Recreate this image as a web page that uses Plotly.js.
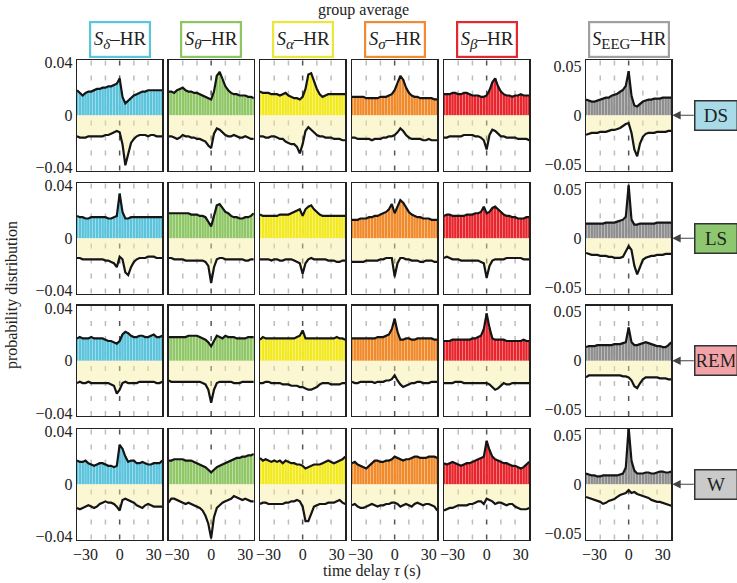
<!DOCTYPE html>
<html>
<head>
<meta charset="utf-8">
<script src="https://cdn.plot.ly/plotly-3.0.1.min.js"></script>
<style>html,body{margin:0;padding:0;background:#fff}</style>
</head>
<body>
<div id="chart" style="width:737px;height:583px"></div>
<script>
// time delay axis (s)
const tau = [-37.5,-35,-32.5,-30,-27.5,-25,-22.5,-20,-17.5,-15,-12.5,-10,-7.5,-5,-2.5,0,2.5,5,7.5,10,12.5,15,17.5,20,22.5,25,27.5,30,32.5,35,37.5];

const bands = ['delta', 'theta', 'alpha', 'sigma', 'beta', 'eeg'];
const subs = ['<i>δ</i>', '<i>θ</i>', '<i>α</i>', '<i>σ</i>', '<i>β</i>', 'EEG'];
const stages = ['DS', 'LS', 'REM', 'W'];

// probability distributions, values x 1e-3 (up = positive part, dn = negative part)
const ds_delta_up = [19,17,15,17,18,18,19,20,20,21,21,22,22,23,24,28,14,9,11,13,15,16,17,18,18,19,19,19,19,19,19];
const ds_delta_dn = [-16,-17,-17,-17,-16,-16,-16,-16,-16,-16,-15,-15,-14,-13,-12,-13,-22,-38,-30,-21,-18,-16,-15,-15,-15,-16,-15,-15,-16,-16,-16];
const ds_theta_up = [18,18,17,19,20,21,19,18,18,17,17,16,15,14,13,12,18,30,33,27,22,19,17,16,16,15,15,15,14,14,13];
const ds_theta_dn = [-16,-16,-17,-18,-17,-15,-16,-16,-17,-17,-18,-18,-19,-20,-23,-25,-14,-10,-11,-13,-15,-16,-16,-15,-16,-17,-17,-16,-17,-18,-18];
const ds_alpha_up = [18,17,17,17,16,16,16,15,16,17,15,14,13,13,12,14,20,31,32,26,20,16,14,15,16,16,16,16,16,16,16];
const ds_alpha_dn = [-16,-16,-17,-17,-16,-16,-17,-18,-18,-20,-21,-22,-22,-24,-29,-22,-12,-9,-11,-13,-15,-16,-16,-17,-17,-17,-18,-18,-18,-19,-19];
const ds_sigma_up = [14,14,14,14,14,13,13,13,13,13,14,14,14,15,16,19,24,30,27,21,17,15,14,14,13,13,13,13,13,12,12];
const ds_sigma_dn = [-17,-17,-18,-18,-18,-18,-18,-19,-18,-18,-18,-17,-17,-16,-16,-15,-13,-10,-12,-15,-17,-18,-18,-18,-18,-19,-19,-18,-19,-19,-19];
const ds_beta_up = [16,16,16,17,17,16,16,17,17,16,15,15,15,14,14,15,19,25,28,22,18,16,15,15,14,15,15,16,15,15,15];
const ds_beta_dn = [-17,-17,-16,-16,-16,-16,-16,-15,-15,-15,-15,-16,-16,-17,-19,-26,-15,-11,-12,-14,-16,-16,-17,-17,-17,-17,-18,-18,-18,-18,-19];
const ds_eeg_up = [16,15,14,14,15,16,17,18,18,20,21,22,24,26,30,45,20,10,9,12,14,15,16,16,17,17,17,18,18,18,18];
const ds_eeg_dn = [-20,-19,-18,-18,-18,-17,-17,-17,-16,-15,-15,-14,-13,-11,-9,-8,-18,-35,-42,-29,-22,-19,-18,-18,-18,-17,-17,-17,-17,-16,-16];

const ls_delta_up = [17,16,16,15,15,16,16,16,16,16,16,15,15,16,17,34,20,15,15,16,16,16,16,16,16,16,16,16,16,16,16];
const ls_delta_dn = [-15,-15,-16,-16,-16,-16,-16,-16,-16,-16,-17,-17,-18,-19,-22,-14,-16,-26,-28,-22,-18,-16,-15,-15,-15,-14,-14,-14,-15,-15,-15];
const ls_theta_up = [19,19,19,19,19,19,19,19,18,18,18,17,17,16,12,9,17,25,26,23,20,19,17,16,16,15,15,16,16,17,19];
const ls_theta_dn = [-15,-15,-16,-16,-16,-16,-17,-17,-17,-17,-17,-17,-17,-18,-21,-34,-22,-16,-15,-15,-16,-16,-16,-16,-16,-16,-16,-17,-17,-16,-16];
const ls_alpha_up = [18,17,17,17,17,17,17,18,18,18,18,19,20,21,22,17,22,24,25,22,20,18,17,17,17,17,17,17,17,17,17];
const ls_alpha_dn = [-16,-16,-16,-16,-17,-16,-16,-17,-17,-16,-16,-16,-17,-18,-19,-27,-19,-16,-15,-16,-16,-16,-16,-16,-17,-17,-17,-18,-18,-17,-17];
const ls_sigma_up = [14,14,14,15,15,15,16,16,17,17,18,19,20,22,26,19,24,29,27,23,20,18,17,16,16,15,15,15,14,14,14];
const ls_sigma_dn = [-18,-18,-18,-18,-18,-17,-17,-17,-17,-17,-16,-16,-15,-15,-15,-29,-19,-15,-15,-16,-16,-17,-17,-17,-18,-18,-17,-17,-17,-18,-18];
const ls_beta_up = [17,18,18,17,17,17,17,17,18,18,18,19,19,20,24,19,20,23,24,22,20,18,17,17,16,16,15,15,15,16,16];
const ls_beta_dn = [-15,-14,-15,-16,-16,-16,-17,-17,-17,-17,-17,-17,-17,-18,-19,-30,-21,-17,-16,-16,-16,-16,-15,-15,-15,-15,-15,-15,-16,-16,-16];
const ls_eeg_up = [15,15,15,15,15,15,15,16,16,16,16,17,18,19,22,54,19,14,14,15,15,15,15,15,15,16,16,16,16,16,16];
const ls_eeg_dn = [-15,-16,-17,-17,-17,-18,-18,-18,-19,-19,-20,-20,-20,-19,-14,-8,-12,-28,-37,-29,-22,-20,-19,-18,-18,-17,-17,-17,-16,-16,-16];

const rem_delta_up = [17,18,17,17,17,18,17,17,17,17,16,15,15,14,13,15,20,22,21,19,18,18,19,19,18,18,19,20,18,18,19];
const rem_delta_dn = [-17,-16,-17,-17,-16,-17,-17,-17,-17,-17,-17,-17,-18,-19,-25,-22,-17,-16,-17,-17,-17,-17,-16,-16,-16,-16,-16,-16,-17,-17,-16];
const rem_theta_up = [18,18,18,18,18,18,18,19,19,19,19,18,17,16,14,11,15,19,18,17,19,18,18,18,17,17,17,17,18,18,18];
const rem_theta_dn = [-15,-16,-16,-16,-16,-16,-16,-16,-16,-16,-16,-16,-17,-18,-22,-32,-22,-17,-16,-16,-16,-16,-16,-17,-17,-17,-16,-16,-16,-16,-16];
const rem_alpha_up = [16,18,17,17,17,17,17,17,17,17,17,17,17,18,19,23,17,17,17,17,17,17,17,17,17,17,17,18,17,17,16];
const rem_alpha_dn = [-17,-17,-16,-16,-17,-17,-17,-17,-18,-18,-18,-19,-19,-19,-20,-20,-21,-22,-22,-21,-20,-18,-17,-17,-17,-18,-18,-18,-18,-17,-17];
const rem_sigma_up = [17,17,17,17,17,17,17,17,17,18,18,18,19,20,24,32,22,16,16,17,17,16,16,17,17,17,17,17,17,16,16];
const rem_sigma_dn = [-16,-17,-17,-16,-16,-16,-16,-16,-17,-16,-16,-16,-15,-15,-14,-11,-15,-18,-20,-19,-18,-17,-17,-16,-16,-17,-17,-17,-16,-16,-16];
const rem_beta_up = [15,15,15,16,16,16,16,16,16,16,17,17,18,19,24,36,25,17,16,16,16,16,15,15,15,15,15,15,16,15,15];
const rem_beta_dn = [-17,-17,-17,-17,-16,-16,-16,-17,-17,-17,-17,-17,-17,-17,-17,-17,-18,-20,-22,-21,-19,-17,-18,-18,-17,-17,-17,-17,-17,-17,-17];
const rem_eeg_up = [14,15,15,15,16,16,16,16,16,16,17,17,17,18,19,34,19,16,16,17,18,19,18,17,16,15,15,14,14,16,19];
const rem_eeg_dn = [-17,-15,-15,-15,-15,-15,-15,-15,-15,-15,-15,-15,-15,-16,-16,-17,-20,-26,-28,-23,-19,-17,-17,-17,-17,-17,-18,-18,-18,-19,-19];

const w_delta_up = [18,17,17,18,16,15,14,15,16,16,15,14,14,13,14,30,27,21,17,18,18,16,16,17,16,15,15,16,16,16,18];
const w_delta_dn = [-18,-19,-18,-17,-16,-17,-18,-17,-15,-14,-13,-14,-14,-15,-17,-20,-12,-11,-12,-13,-14,-16,-17,-18,-16,-15,-16,-17,-17,-17,-17];
const w_theta_up = [18,18,19,19,19,19,18,18,18,17,16,15,14,13,11,9,11,13,14,15,16,17,18,19,20,20,21,21,22,22,23];
const w_theta_dn = [-14,-11,-11,-12,-13,-14,-15,-14,-15,-16,-17,-18,-20,-24,-30,-41,-25,-18,-16,-14,-13,-12,-11,-9,-10,-11,-12,-11,-12,-13,-13];
const w_alpha_up = [20,18,19,18,17,18,17,18,16,18,17,16,16,15,15,14,12,13,14,15,15,15,16,17,18,17,16,17,18,19,21];
const w_alpha_dn = [-15,-14,-14,-15,-15,-15,-15,-15,-15,-14,-14,-13,-13,-12,-13,-17,-28,-28,-22,-17,-16,-15,-15,-15,-14,-14,-14,-13,-12,-14,-15];
const w_sigma_up = [16,17,15,14,13,12,14,16,18,18,17,17,18,18,19,21,20,19,18,19,19,20,21,21,20,20,20,21,21,21,20];
const w_sigma_dn = [-16,-15,-17,-18,-18,-17,-16,-15,-16,-17,-16,-16,-15,-15,-14,-14,-15,-17,-16,-15,-16,-17,-15,-14,-15,-16,-15,-15,-16,-17,-20];
const w_beta_up = [16,15,16,17,16,15,14,15,16,16,17,18,19,20,21,33,26,21,19,18,17,16,16,15,14,14,13,12,13,15,17];
const w_beta_dn = [-20,-19,-18,-18,-17,-16,-16,-16,-16,-15,-15,-14,-13,-13,-15,-11,-12,-13,-15,-14,-14,-15,-16,-15,-15,-17,-18,-19,-19,-19,-18];
const w_eeg_up = [11,10,9,9,8,8,9,9,9,9,9,9,10,11,17,58,24,14,11,11,11,12,12,11,11,12,13,13,12,12,13];
const w_eeg_dn = [-13,-14,-15,-16,-17,-18,-20,-19,-17,-16,-15,-13,-11,-10,-9,-6,-9,-8,-10,-11,-12,-13,-14,-16,-17,-18,-18,-19,-20,-21,-22];

const series = {
  DS:  [[ds_delta_up, ds_delta_dn], [ds_theta_up, ds_theta_dn], [ds_alpha_up, ds_alpha_dn], [ds_sigma_up, ds_sigma_dn], [ds_beta_up, ds_beta_dn], [ds_eeg_up, ds_eeg_dn]],
  LS:  [[ls_delta_up, ls_delta_dn], [ls_theta_up, ls_theta_dn], [ls_alpha_up, ls_alpha_dn], [ls_sigma_up, ls_sigma_dn], [ls_beta_up, ls_beta_dn], [ls_eeg_up, ls_eeg_dn]],
  REM: [[rem_delta_up, rem_delta_dn], [rem_theta_up, rem_theta_dn], [rem_alpha_up, rem_alpha_dn], [rem_sigma_up, rem_sigma_dn], [rem_beta_up, rem_beta_dn], [rem_eeg_up, rem_eeg_dn]],
  W:   [[w_delta_up, w_delta_dn], [w_theta_up, w_theta_dn], [w_alpha_up, w_alpha_dn], [w_sigma_up, w_sigma_dn], [w_beta_up, w_beta_dn], [w_eeg_up, w_eeg_dn]]
};

// colours
const barColors = ['#5bc4dc', '#8fc766', '#f2e91e', '#f08a2a', '#e8252c', '#8e8e8e'];
const boxColors = ['#5bc5db', '#8dc660', '#ede63a', '#ee8b33', '#e3282f', '#a0a0a0'];
const stageColors = ['#a8dae8', '#8dc870', '#f2a3a8', '#cacaca'];

// panel geometry (pixels)
const W = 737, H = 583;
const colLeft = [77, 168.5, 260, 352, 444, 586];
const colW = 85.3;
const rowTop = [60, 183, 305.5, 429];
const rowH = 110.5;
const serif = '"Liberation Serif", "Times New Roman", Times, serif';

const data = [];
const shapes = [];
const annotations = [];
const layout = {
  width: W, height: H,
  margin: {l: 0, r: 0, t: 0, b: 0},
  showlegend: false,
  bargap: 0.1,
  paper_bgcolor: '#fff', plot_bgcolor: '#fff',
  font: {family: serif, size: 16, color: '#222'}
};

stages.forEach((st, r) => {
  bands.forEach((b, c) => {
    const k = r * 6 + c + 1;
    const xa = 'x' + (k === 1 ? '' : k);
    const ya = 'y' + (k === 1 ? '' : k);
    const up = series[st][c][0].map(v => v * 1e-3);
    const dn = series[st][c][1].map(v => v * 1e-3);

    data.push({type: 'scatter', mode: 'lines', x: tau, y: dn, xaxis: xa, yaxis: ya,
      fill: 'tozeroy', fillcolor: 'rgba(246,236,150,0.42)',
      line: {color: '#151515', width: 2.2}, hoverinfo: 'skip'});
    data.push({type: 'bar', x: tau, y: up, xaxis: xa, yaxis: ya,
      marker: {color: barColors[c], line: {width: 0}}, hoverinfo: 'skip'});
    data.push({type: 'scatter', mode: 'lines', x: tau, y: up, xaxis: xa, yaxis: ya,
      line: {color: '#151515', width: 2.2}, hoverinfo: 'skip'});

    const eeg = c === 5;
    layout['xaxis' + (k === 1 ? '' : k)] = {
      domain: [colLeft[c] / W, (colLeft[c] + colW) / W],
      anchor: ya, range: [-37.5, 37.5],
      showgrid: false, zeroline: false,
      showline: true, mirror: true, linecolor: '#222', linewidth: 1.2,
      tickvals: [-30, 0, 30], ticktext: ['−30', '0', '30'],
      showticklabels: r === 3, ticks: '', tickfont: {family: serif, size: 16}
    };
    layout['yaxis' + (k === 1 ? '' : k)] = {
      domain: [1 - (rowTop[r] + rowH) / H, 1 - rowTop[r] / H],
      anchor: xa, range: eeg ? [-0.0565, 0.0565] : [-0.042, 0.042],
      showgrid: false, zeroline: false,
      showline: true, mirror: true, linecolor: '#222', linewidth: 1.2,
      tickvals: eeg ? [-0.05, 0, 0.05] : [-0.04, 0, 0.04],
      ticktext: eeg ? ['−0.05', '0', '0.05'] : ['−0.04', '0', '0.04'],
      showticklabels: c === 0 || eeg, ticks: '', tickfont: {family: serif, size: 16}
    };

    // dashed guide lines
    [-25, -12.5, 0, 12.5, 25].forEach(g => {
      shapes.push({type: 'line', xref: xa, yref: ya + ' domain', x0: g, x1: g, y0: 0, y1: 1,
        layer: 'below', line: {color: g === 0 ? '#555' : '#bdbdbd', width: 1.5, dash: '5px,10px'}});
    });
  });

  // stage box with arrow
  const zy = 1 - (rowTop[r] + rowH / 2) / H;
  annotations.push({xref: 'paper', yref: 'paper', x: (colLeft[5] + colW + 1) / W, y: zy,
    ax: 23, ay: 0, text: '', showarrow: true, arrowhead: 2, arrowsize: 1.4, arrowwidth: 1.2, arrowcolor: '#444'});
  annotations.push({xref: 'paper', yref: 'paper', x: 694 / W, y: zy, xanchor: 'left', yanchor: 'middle',
    text: st, showarrow: false, width: 37, height: 24, borderpad: 2,
    bgcolor: stageColors[r], bordercolor: '#333', borderwidth: 1.5, font: {family: serif, size: 19, color: '#222'}});
});

// column titles
bands.forEach((b, c) => {
  const label = '<i>S</i><sub><span style="font-size:15px">' + subs[c] + '</span></sub>–HR';
  annotations.push({xref: 'paper', yref: 'paper', x: (colLeft[c] + colW / 2) / W, y: 1 - 40 / H,
    xanchor: 'center', yanchor: 'middle', text: label, showarrow: false, font: {family: serif, size: 19, color: '#222'},
    width: c === 5 ? 72 : 52, height: 27, borderpad: 3,
    bordercolor: boxColors[c], borderwidth: 2.2, bgcolor: '#fff'});
});

annotations.push({xref: 'paper', yref: 'paper', x: 363 / W, y: 1 - 10 / H, xanchor: 'center', yanchor: 'middle',
  text: 'group average', showarrow: false, font: {family: serif, size: 16}});
annotations.push({xref: 'paper', yref: 'paper', x: 372 / W, y: 1 - 571 / H, xanchor: 'center', yanchor: 'middle',
  text: 'time delay <i>τ</i> (s)', showarrow: false, font: {family: serif, size: 16}});
annotations.push({xref: 'paper', yref: 'paper', x: 12 / W, y: 1 - 295 / H, xanchor: 'center', yanchor: 'middle',
  textangle: -90, text: 'probability distribution', showarrow: false, font: {family: serif, size: 16}});

layout.shapes = shapes;
layout.annotations = annotations;

Plotly.newPlot('chart', data, layout, {displayModeBar: false, staticPlot: true});
</script>
</body>
</html>
